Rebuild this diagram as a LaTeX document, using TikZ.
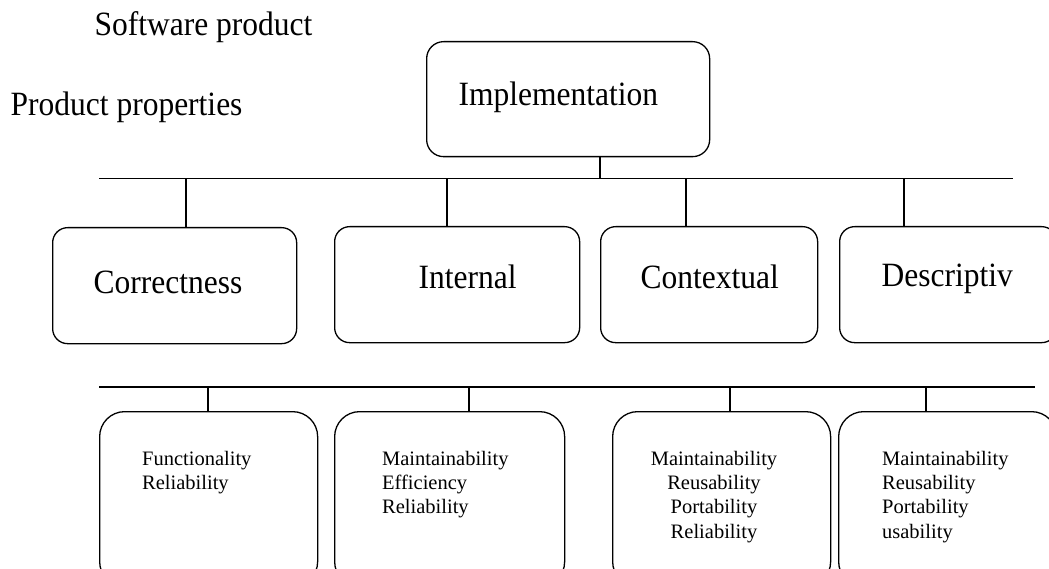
\documentclass[tikz,border=0pt]{standalone}
\usepackage{fontspec}
\setmainfont{Liberation Serif}
% large labels are set slightly taller than wide
\newcommand\tallLabel[1]{\scalebox{1}[1.08]{#1}}
\begin{document}
\begin{tikzpicture}[x=1pt,y=-1pt,
  line width=1.3pt,
  big/.style={font=\fontsize{31.5}{36}\selectfont, inner sep=0pt},
  small/.style={font=\fontsize{20.5}{24.4}\selectfont, inner sep=0pt},
  box/.style={draw, rounded corners=#1, inner sep=0pt, anchor=north west},
  box/.default=15pt,
  bus/.style={line width=1.3pt}]
\clip (0,0) rectangle (1049,569);

% headings
\node[big, anchor=base west] (sw) at (94,36) {\tallLabel{Software product}};
\node[big, anchor=base west] (pp) at (10,116) {\tallLabel{Product properties}};

% top box
\node[box=17pt, minimum width=283pt, minimum height=115pt] (impl) at (426,41) {};
\node[big, anchor=base west] (implt) at (458,106) {\tallLabel{Implementation}};

% first bus
\coordinate (b1w) at (99,178.5);
\coordinate (b1e) at (1013,178.5);
\draw[bus] (b1w) -- (b1e);
\coordinate (j0) at (600,178.5);
\draw (j0 |- impl.south) -- (j0);

% second level boxes
\node[box, minimum width=244pt, minimum height=116pt] (corr) at (52,227) {};
\node[box, minimum width=245pt, minimum height=116pt] (intl) at (334,226) {};
\node[box, minimum width=217pt, minimum height=116pt] (ctxt) at (600,226) {};
\node[box, minimum width=217pt, minimum height=116pt] (desc) at (839,226) {};

\node[big, anchor=base west] (corrt) at (93,294) {\tallLabel{Correctness}};
\node[big, anchor=base west] (intlt) at (418,288) {\tallLabel{Internal}};
\node[big, anchor=base west] (ctxtt) at (640,289) {\tallLabel{Contextual}};
\node[big, anchor=base west] (desct) at (881,287) {\tallLabel{Descriptiv}};

\coordinate (j1) at (186,178.5);
\coordinate (j2) at (447,178.5);
\coordinate (j3) at (686,178.5);
\coordinate (j4) at (904,178.5);
\draw (j1) -- (j1 |- corr.north);
\draw (j2) -- (j2 |- intl.north);
\draw (j3) -- (j3 |- ctxt.north);
\draw (j4) -- (j4 |- desc.north);

% second bus
\coordinate (b2w) at (99,387);
\coordinate (b2e) at (1035,387);
\draw[bus] (b2w) -- (b2e);

% third level boxes
\node[box=25pt, minimum width=218pt, minimum height=175pt] (q1) at (99,411) {};
\node[box=25pt, minimum width=230pt, minimum height=175pt] (q2) at (334,411) {};
\node[box=25pt, minimum width=218pt, minimum height=175pt] (q3) at (612,411) {};
\node[box=25pt, minimum width=218pt, minimum height=175pt] (q4) at (838,411) {};

\coordinate (k1) at (208,387);
\coordinate (k2) at (469,387);
\coordinate (k3) at (730,387);
\coordinate (k4) at (926,387);
\draw (k1) -- (k1 |- q1.north);
\draw (k2) -- (k2 |- q2.north);
\draw (k3) -- (k3 |- q3.north);
\draw (k4) -- (k4 |- q4.north);

\node[small, anchor=north west, align=left] (q1t) at (141.5,450.3)
  {Functionality\\Reliability};
\node[small, anchor=north west, align=left] (q2t) at (381.5,450.3)
  {Maintainability\\Efficiency\\Reliability};
\node[small, anchor=north, align=center] (q3t) at (714,450.3)
  {Maintainability\\Reusability\\Portability\\Reliability};
\node[small, anchor=north west, align=left] (q4t) at (881.5,450.3)
  {Maintainability\\Reusability\\Portability\\usability};
\end{tikzpicture}
\end{document}
